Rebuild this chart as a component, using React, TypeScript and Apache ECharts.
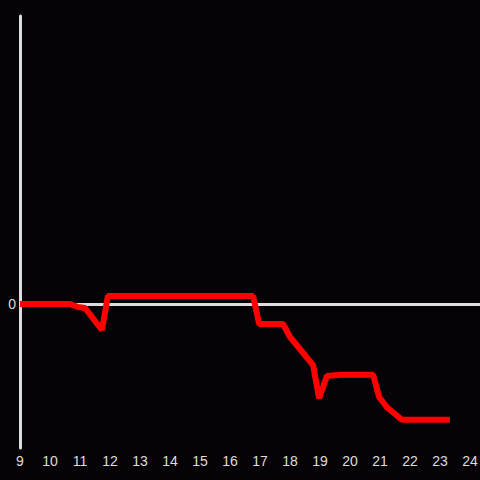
import React, { useEffect, useRef } from "react";
import * as echarts from "echarts";

const hours = [9, 10.67, 10.93, 11.17, 11.73, 11.93, 16.77, 16.97, 17.77, 18.0, 18.77, 18.97, 19.23, 19.67, 20.77, 20.97, 21.23, 21.73, 23.33];
const values = [0, 0, -0.5, -0.67, -4.33, 1.33, 1.33, -3.33, -3.33, -5.5, -10.2, -15.7, -12, -11.8, -11.8, -15.5, -17.2, -19.3, -19.3];
const xTicks = [9, 10, 11, 12, 13, 14, 15, 16, 17, 18, 19, 20, 21, 22, 23, 24];

export default function App() {
  const ref = useRef<HTMLDivElement>(null);
  useEffect(() => {
    document.body.style.margin = "0";
    document.body.style.overflow = "hidden";
    const chart = echarts.init(ref.current!, null, { renderer: "svg", width: 480, height: 480 });
    chart.setOption({
      animation: false,
      backgroundColor: "#050307",
      grid: { left: 20, width: 460, top: 16, bottom: 32, outerBoundsMode: "none", containLabel: false },
      xAxis: {
        type: "value",
        min: xTicks[0],
        max: 24.333,
        interval: 1,
        axisLine: { show: false, onZero: false },
        axisTick: { show: false },
        splitLine: { show: false },
        axisLabel: {
          color: "#dddddd",
          fontSize: 14,
          fontFamily: "Liberation Sans",
          margin: 6,
          formatter: (v: number) => (xTicks.includes(v) ? String(v) : ""),
        },
      },
      yAxis: {
        type: "value",
        min: -24,
        max: 48,
        interval: 24,
        axisLine: { show: true, lineStyle: { color: "#dddddd", width: 3 } },
        axisTick: { show: false },
        splitLine: { show: false },
        axisLabel: {
          color: "#dddddd",
          fontSize: 14,
          fontFamily: "Liberation Sans",
          margin: 4,
          formatter: (v: number) => (v === 0 ? "0" : ""),
        },
      },
      series: [
        {
          type: "line",
          data: hours.map((h, i) => [h, values[i]]),
          showSymbol: false,
          lineStyle: { color: "#ff0000", width: 6 },
          itemStyle: { color: "#ff0000" },
          z: 3,
          markLine: {
            z: 1,
            silent: true,
            symbol: "none",
            label: { show: false },
            lineStyle: { color: "#dddddd", width: 3, type: "solid" },
            data: [{ yAxis: 0 }],
          },
        },
      ],
    });
    return () => chart.dispose();
  }, []);
  return <div ref={ref} style={{ width: 480, height: 480 }} />;
}
